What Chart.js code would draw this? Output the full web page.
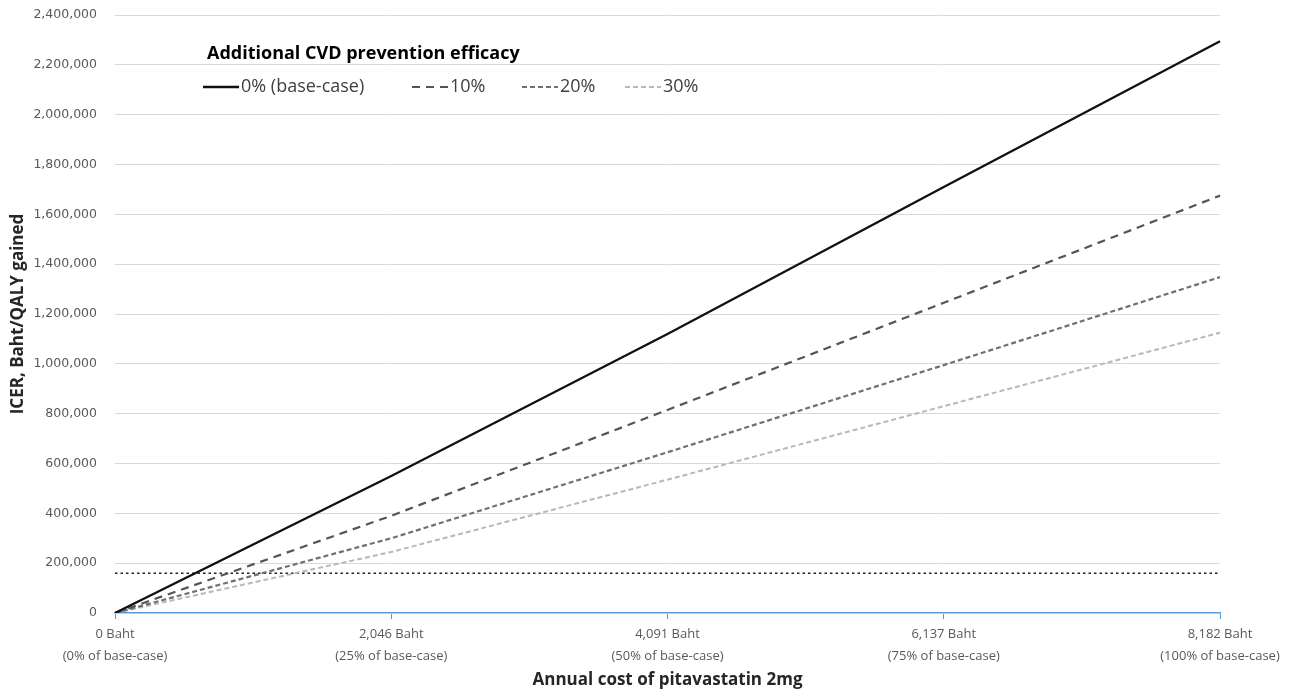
<!DOCTYPE html>
<html>
<head>
<meta charset="utf-8">
<script src="https://cdn.jsdelivr.net/npm/chart.js@4"></script>
<style>
  html, body { margin: 0; padding: 0; background: #fff; }
  #wrap { width: 1295px; height: 692px; }
</style>
</head>
<body>
<div id="wrap"><canvas id="iceChart"></canvas></div>
<script>
// annual cost of pitavastatin (x categories)
var costLabels = [
  ['0 Baht', '(0% of base-case)'],
  ['2,046 Baht', '(25% of base-case)'],
  ['4,091 Baht', '(50% of base-case)'],
  ['6,137 Baht', '(75% of base-case)'],
  ['8,182 Baht', '(100% of base-case)']
];
var seriesNames = ['0% (base-case)', '10%', '20%', '30%'];

// ICER values, Baht/QALY gained
var icerBase = [0, 550000, 1120000, 1710000, 2295000];
var icer10 = [0, 390000, 815000, 1245000, 1675000];
var icer20 = [0, 300000, 645000, 995000, 1348000];
var icer30 = [0, 245000, 535000, 830000, 1125000];
var threshold = [160000, 160000, 160000, 160000, 160000];

var legendTitle = 'Additional CVD prevention efficacy';

document.addEventListener('DOMContentLoaded', function() {
  var ctx = document.getElementById('iceChart').getContext('2d');

  // legend drawn inside the plot like the original
  var insideLegend = {
    id: 'insideLegend',
    afterDraw: function(chart) {
      var c = chart.ctx;
      var left = chart.chartArea.left;
      c.save();
      c.fillStyle = '#000';
      c.font = 'bold 18px "Open Sans"';
      c.textBaseline = 'middle';
      c.fillText(legendTitle, left + 92, 54);
      var xs = [88, 297, 407, 510]; // sample start offsets
      c.font = '18px "Open Sans"';
      for (var i = 0; i < 4; i++) {
        var ds = chart.data.datasets[i];
        var x0 = left + xs[i];
        c.beginPath();
        c.strokeStyle = ds.borderColor;
        c.lineWidth = ds.borderWidth;
        c.setLineDash(ds.borderDash || []);
        c.moveTo(x0, 87);
        c.lineTo(x0 + 36, 87);
        c.stroke();
        c.setLineDash([]);
        c.fillStyle = '#404040';
        c.fillText(ds.label, x0 + 38, 87);
      }
      c.restore();
    }
  };

  var myChart = new Chart(ctx, {
    type: 'line',
    data: {
      labels: costLabels,
      datasets: [
        { label: seriesNames[0], data: icerBase, borderColor: '#111', borderWidth: 2.3, borderDash: [] },
        { label: seriesNames[1], data: icer10, borderColor: '#555', borderWidth: 2.2, borderDash: [8, 6] },
        { label: seriesNames[2], data: icer20, borderColor: '#707070', borderWidth: 2.2, borderDash: [5, 3] },
        { label: seriesNames[3], data: icer30, borderColor: '#b8b8b8', borderWidth: 2, borderDash: [5, 3] },
        { label: 'threshold', data: threshold, borderColor: '#222', borderWidth: 1.5, borderDash: [2.5, 3] }
      ]
    },
    options: {
      responsive: true,
      maintainAspectRatio: false,
      animation: false,
      elements: {
        point: { radius: 0 },
        line: { tension: 0, fill: false }
      },
      layout: { padding: { top: 5, right: 75, left: 0, bottom: 0 } },
      plugins: {
        legend: { display: false },
        tooltip: { enabled: false }
      },
      scales: {
        x: {
          offset: false,
          grid: { drawOnChartArea: false, drawTicks: true, tickLength: 6, color: '#5b9bd5' },
          border: { color: '#5b9bd5', width: 1.3 },
          ticks: {
            color: '#595959',
            font: { family: 'Open Sans', size: 13, lineHeight: 1.65 },
            padding: 5,
            maxRotation: 0,
            autoSkip: false
          },
          title: {
            display: true,
            text: 'Annual cost of pitavastatin 2mg',
            color: '#262626',
            font: { family: 'Open Sans', size: 17, weight: 'bold' },
            padding: { top: 2, bottom: 2 }
          },
          afterFit: function(s) { s.height = 79; }
        },
        y: {
          min: 0,
          max: 2400000,
          grid: { color: '#d9d9d9', drawTicks: false },
          border: { display: false },
          ticks: {
            stepSize: 200000,
            color: '#595959',
            padding: 18,
            font: { family: 'DejaVu Sans', size: 12.5 },
            callback: function(v) { return v.toLocaleString('en-US'); }
          },
          title: {
            display: true,
            text: 'ICER, Baht/QALY gained',
            color: '#262626',
            font: { family: 'Open Sans', size: 17, weight: 'bold' },
            padding: { top: 8, bottom: 4 }
          },
          afterFit: function(s) {
            s.width = 115;
            s.paddingTop = 15;
          }
        }
      }
    },
    plugins: [insideLegend]
  });
});
</script>
</body>
</html>
